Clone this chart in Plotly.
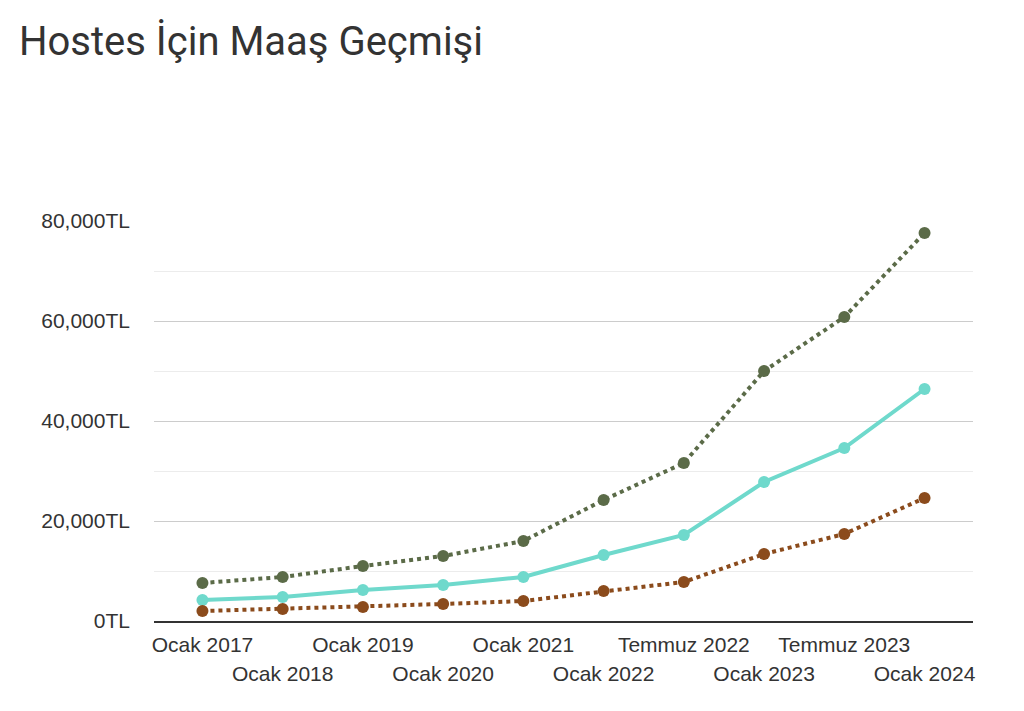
import plotly.graph_objects as go

categories = ["Ocak 2017", "Ocak 2018", "Ocak 2019", "Ocak 2020", "Ocak 2021",
              "Ocak 2022", "Temmuz 2022", "Ocak 2023", "Temmuz 2023", "Ocak 2024"]
high = [7600, 8800, 11000, 13000, 16000, 24200, 31600, 50000, 60800, 77600]
mid = [4200, 4800, 6200, 7200, 8800, 13200, 17200, 27800, 34600, 46400]
low = [2000, 2400, 2800, 3400, 4000, 6000, 7800, 13400, 17400, 24600]

row1 = categories[0::2]
row2 = categories[1::2]

fig = go.Figure()
fig.add_trace(go.Scatter(x=categories, y=high, mode="lines+markers",
                         line=dict(color="#5b6b48", width=4, dash="4px,4px"),
                         marker=dict(size=12, color="#5b6b48"), name="Yüksek"))
fig.add_trace(go.Scatter(x=categories, y=mid, mode="lines+markers",
                         line=dict(color="#6fd9cc", width=4),
                         marker=dict(size=12, color="#6fd9cc"), name="Ortalama"))
fig.add_trace(go.Scatter(x=categories, y=low, mode="lines+markers",
                         line=dict(color="#8b4b1c", width=4, dash="4px,4px"),
                         marker=dict(size=12, color="#8b4b1c"), name="Düşük"))
# invisible helper trace for the second label row axis
fig.add_trace(go.Scatter(x=categories, y=[None] * len(categories), xaxis="x2",
                         showlegend=False, hoverinfo="skip", mode="lines"))

tickfont = dict(family="Liberation Sans, Arial, sans-serif", size=21, color="#333333")

fig.update_layout(
    width=1016, height=703,
    margin=dict(l=146, r=51, t=213, b=90),
    paper_bgcolor="white", plot_bgcolor="white",
    showlegend=False,
    title=dict(text="Hostes İçin Maaş Geçmişi", x=11 / 1016, xanchor="left",
               y=1 - 33 / 703, yanchor="middle",
               font=dict(family="Roboto, sans-serif", size=40, color="#333333")),
    xaxis=dict(type="category", categoryorder="array", categoryarray=categories,
               tickmode="array", tickvals=row1, ticktext=row1,
               showgrid=False, showline=True, linecolor="#333333", linewidth=1.5,
               ticks="", tickfont=tickfont, ticklabelstandoff=4),
    xaxis2=dict(type="category", categoryorder="array", categoryarray=categories,
                matches="x", overlaying="x", anchor="y", side="bottom",
                tickmode="array", tickvals=row2, ticktext=row2,
                showgrid=False, showline=False, ticks="", tickfont=tickfont,
                ticklabelstandoff=38),
    yaxis=dict(range=[0, 80000], dtick=20000, tick0=0, tickformat=",", ticksuffix="TL",
               showgrid=True, gridcolor="#cccccc", gridwidth=1,
               zeroline=False, showline=False, ticks="", tickfont=tickfont,
               ticklabelstandoff=23,
               minor=dict(dtick=10000, showgrid=True, gridcolor="#ececec", gridwidth=1)),
)

fig.write_html("out.html")
